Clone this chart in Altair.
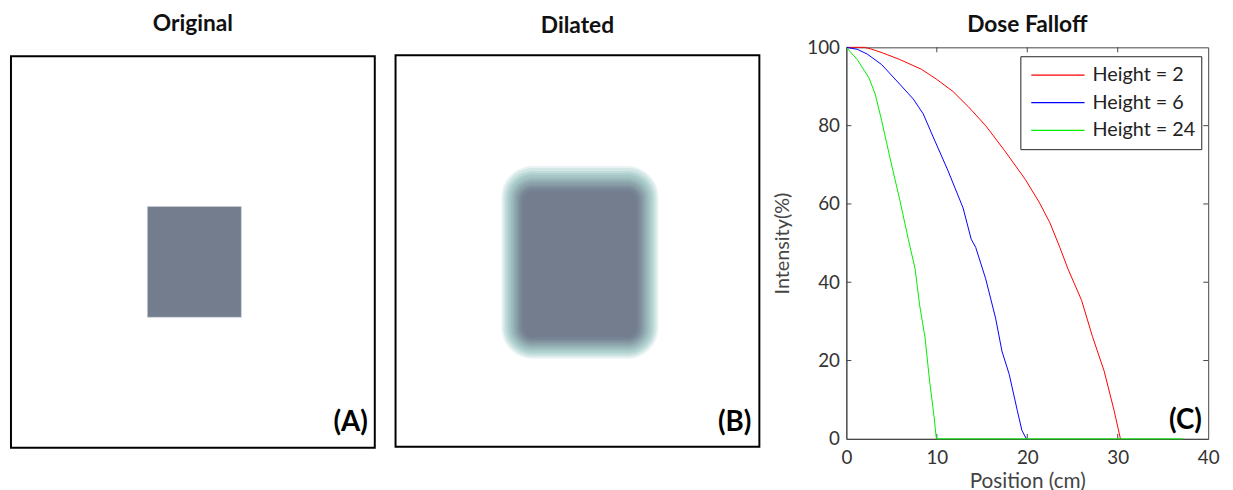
import altair as alt
import pandas as pd

# ---------------- data ----------------
series = ["Height = 2", "Height = 6", "Height = 24"]
series_colors = ["#ff0000", "#0000ff", "#00ee00"]

pos_h2 = [0, 2, 2.7, 4, 5.9, 8.3, 10, 11.8, 13.5, 15.4, 17.5, 19.8, 21.3, 22.5, 23.6, 24.5, 26, 27.2, 28.5, 29.6, 30.3]
int_h2 = [100, 100, 99.6, 98.6, 96.9, 94.4, 91.8, 88.7, 84.8, 80, 73.6, 66.2, 60.5, 55.2, 48.9, 43.4, 35.4, 26.2, 17.3, 7.2, 0]

pos_h6 = [0, 1.2, 2.3, 3.9, 5.9, 7.4, 8.5, 9.6, 11.2, 12.9, 13.8, 14.3, 15.4, 16.5, 17.2, 18, 18.9, 19.4, 19.9]
int_h6 = [100, 99.5, 98.3, 95.6, 90.6, 86.8, 83, 77.1, 68.7, 59, 51, 48.9, 40.9, 30.8, 22.4, 16.5, 7.2, 2.2, 0]

pos_h24 = [0, 1.2, 2.5, 3.2, 3.9, 4.8, 5.9, 6.85, 7.6, 8.1, 8.7, 9.2, 9.7, 9.95, 37.2]
int_h24 = [100, 96.9, 92.2, 88, 81.3, 72, 61.1, 51, 43.4, 34.2, 25.8, 14.8, 5.6, 0, 0]

x_ticks_c = [0, 10, 20, 30, 40]
y_ticks_c = [0, 20, 40, 60, 80, 100]
inner_x_ticks = [10, 20, 30]
inner_y_ticks = [20, 40, 60, 80]

# image frame of panels A and B (image pixel coordinates, origin top-left)
frame_x0 = [0]
frame_x1 = [368]
frame_y0 = [0]
frame_y1 = [396]

# panel A: original rectangle
orig_x0 = [138]
orig_x1 = [233]
orig_y0 = [152]
orig_y1 = [264]

# panel B: dilated / blurred rectangle, outer ring first
blur_x0 = [107, 109, 111, 113, 115, 117, 119, 121, 123, 125, 127, 129]
blur_x1 = [266, 264, 262, 260, 258, 256, 254, 252, 250, 248, 246, 244]
blur_y0 = [112, 114, 117, 119, 121, 124, 126, 128, 131, 133, 135, 138]
blur_y1 = [307, 305, 303, 301, 299, 297, 295, 293, 291, 289, 287, 285]
blur_col = ["#eaf3f3", "#d2e6e5", "#bedad9", "#b0d0cf", "#a6c6c6", "#9dbabd",
            "#94aeb4", "#8ba2ab", "#8396a2", "#7b8b99", "#768393", "#737d8e"]
blur_rad = [32, 30, 28, 26, 24, 22, 20, 18, 16, 14, 12, 10]

panel_titles = ["Original", "Dilated", "Dose Falloff"]
panel_tags = ["(A)", "(B)", "(C)"]

FONT = "Lato"
IMG_W, IMG_H = 368, 396
C_W, C_H = 366, 396
TITLE_SIZE = 23
A_TOP_GAP = 9   # panel A frame sits this much below panel C's plot top
B_TOP_GAP = 8

# ---------------- panel A & B ----------------
xs_img = alt.Scale(domain=[0, IMG_W], nice=False, zero=False)


def ys_img(gap):
    return alt.Scale(domain=[-gap, IMG_H], nice=False, zero=False, reverse=True)


def panel_title(text, offset):
    return alt.TitleParams(text=text, font=FONT, fontSize=TITLE_SIZE, fontWeight="bold",
                           color="#111111", offset=offset, anchor="middle",
                           baseline="bottom")


def image_panel(content, tag, tag_x, tag_y, gap, title, offset):
    ys = ys_img(gap)
    frame_df = pd.DataFrame({"x0": frame_x0, "x1": frame_x1, "y0": frame_y0, "y1": frame_y1})
    frame = alt.Chart(frame_df).mark_rect(
        fill="white", stroke="#000000", strokeWidth=2
    ).encode(
        x=alt.X("x0:Q", scale=xs_img, axis=None), x2="x1:Q",
        y=alt.Y("y0:Q", scale=ys, axis=None), y2="y1:Q",
    )
    d = pd.DataFrame({"x": [tag_x], "y": [tag_y], "t": [tag]})
    tag_layer = alt.Chart(d).mark_text(
        align="right", baseline="alphabetic", font=FONT, fontSize=28,
        fontWeight="bold", color="#000000"
    ).encode(
        x=alt.X("x:Q", scale=xs_img, axis=None),
        y=alt.Y("y:Q", scale=ys, axis=None),
        text="t:N",
    )
    body = content(ys)
    return alt.layer(frame, *body, tag_layer).properties(
        width=IMG_W, height=IMG_H + gap, title=panel_title(title, offset),
        view=alt.ViewBackground(strokeOpacity=0, fill="white"),
    )


def content_a(ys):
    orig_df = pd.DataFrame({"x0": orig_x0, "x1": orig_x1, "y0": orig_y0, "y1": orig_y1})
    r = alt.Chart(orig_df).mark_rect(color="#737d8e", stroke="#c9d0d8", strokeWidth=0.6).encode(
        x=alt.X("x0:Q", scale=xs_img, axis=None), x2="x1:Q",
        y=alt.Y("y0:Q", scale=ys, axis=None), y2="y1:Q",
    )
    return [r]


def content_b(ys):
    blur_df = pd.DataFrame({"x0": blur_x0, "x1": blur_x1, "y0": blur_y0, "y1": blur_y1,
                            "c": blur_col, "r": blur_rad, "k": list(range(len(blur_x0)))})
    r = alt.Chart(blur_df).mark_rect(cornerRadius=alt.expr("datum.r")).encode(
        x=alt.X("x0:Q", scale=xs_img, axis=None), x2="x1:Q",
        y=alt.Y("y0:Q", scale=ys, axis=None), y2="y1:Q",
        color=alt.Color("c:N", scale=None),
        order=alt.Order("k:Q"),
    )
    return [r]


panel_a = image_panel(content_a, panel_tags[0], 361, 379, A_TOP_GAP, panel_titles[0], -11)
panel_b = image_panel(content_b, panel_tags[1], 360, 380, B_TOP_GAP, panel_titles[1], -13)

# ---------------- panel C ----------------
rows = []
for name, xs, ys in zip(series, [pos_h2, pos_h6, pos_h24], [int_h2, int_h6, int_h24]):
    for i, (xv, yv) in enumerate(zip(xs, ys)):
        rows.append({"series": name, "pos": xv, "intensity": yv, "order": i})
df = pd.DataFrame(rows)

xs_c = alt.Scale(domain=[0, 40], nice=False, zero=False)
ys_c = alt.Scale(domain=[0, 100], nice=False, zero=False)

x_axis = alt.Axis(values=x_ticks_c, title="Position (cm)", ticks=False, grid=False,
                  domainColor="#444444", labelFont=FONT, labelFontSize=19,
                  labelColor="#333333", labelPadding=10, labelFlush=False,
                  titleFont=FONT, titleFontSize=21, titleFontWeight="normal",
                  titleColor="#444444", titlePadding=3)
y_axis = alt.Axis(values=y_ticks_c, title="Intensity(%)", ticks=False, grid=False,
                  domainColor="#444444", labelFont=FONT, labelFontSize=19,
                  labelColor="#333333", labelPadding=7, labelFlush=False,
                  titleFont=FONT, titleFontSize=20, titleFontWeight="normal",
                  titleColor="#444444", titlePadding=14)

lines = alt.Chart(df).mark_line(strokeWidth=1).encode(
    x=alt.X("pos:Q", scale=xs_c, axis=x_axis),
    y=alt.Y("intensity:Q", scale=ys_c, axis=y_axis),
    color=alt.Color("series:N", sort=series,
                    scale=alt.Scale(domain=series, range=series_colors),
                    legend=alt.Legend(orient="none", legendX=1021, legendY=9, title=None,
                                      strokeColor="#222222", fillColor="white",
                                      padding=6, symbolOffset=4, clipHeight=26,
                                      symbolType="stroke", symbolSize=2900,
                                      symbolStrokeWidth=1.3, labelFont=FONT,
                                      labelFontSize=20, labelColor="#222222",
                                      labelOffset=7, rowPadding=2)),
    order=alt.Order("order:Q"),
)

xt_df = pd.DataFrame({"pos": inner_x_ticks})
yt_df = pd.DataFrame({"intensity": inner_y_ticks})
tick_col = "#444444"
xt_bottom = alt.Chart(xt_df).mark_rule(color=tick_col).encode(
    x=alt.X("pos:Q", scale=xs_c), y=alt.value(C_H), y2=alt.value(C_H - 5))
xt_top = alt.Chart(xt_df).mark_rule(color=tick_col).encode(
    x=alt.X("pos:Q", scale=xs_c), y=alt.value(0), y2=alt.value(5))
yt_left = alt.Chart(yt_df).mark_rule(color=tick_col).encode(
    y=alt.Y("intensity:Q", scale=ys_c), x=alt.value(0), x2=alt.value(5))
yt_right = alt.Chart(yt_df).mark_rule(color=tick_col).encode(
    y=alt.Y("intensity:Q", scale=ys_c), x=alt.value(C_W), x2=alt.value(C_W - 5))

tag_c_df = pd.DataFrame({"pos": [39.3], "intensity": [2.5], "t": [panel_tags[2]]})
tag_c = alt.Chart(tag_c_df).mark_text(
    align="right", baseline="alphabetic", font=FONT, fontSize=28,
    fontWeight="bold", color="#000000"
).encode(x=alt.X("pos:Q", scale=xs_c), y=alt.Y("intensity:Q", scale=ys_c), text="t:N")

panel_c = alt.layer(xt_bottom, xt_top, yt_left, yt_right, lines, tag_c).properties(
    width=C_W, height=C_H,
    title=panel_title(panel_titles[2], -21),
    view=alt.ViewBackground(stroke="#444444", strokeWidth=1, fill="white"),
)

chart = alt.hconcat(
    alt.hconcat(panel_a, panel_b, spacing=19),
    panel_c,
    spacing=12,
).properties(
    padding={"left": 2, "top": 2, "right": 5, "bottom": 0},
    background="white",
)

chart.save("out.html", embed_options={"renderer": "svg", "actions": False})
